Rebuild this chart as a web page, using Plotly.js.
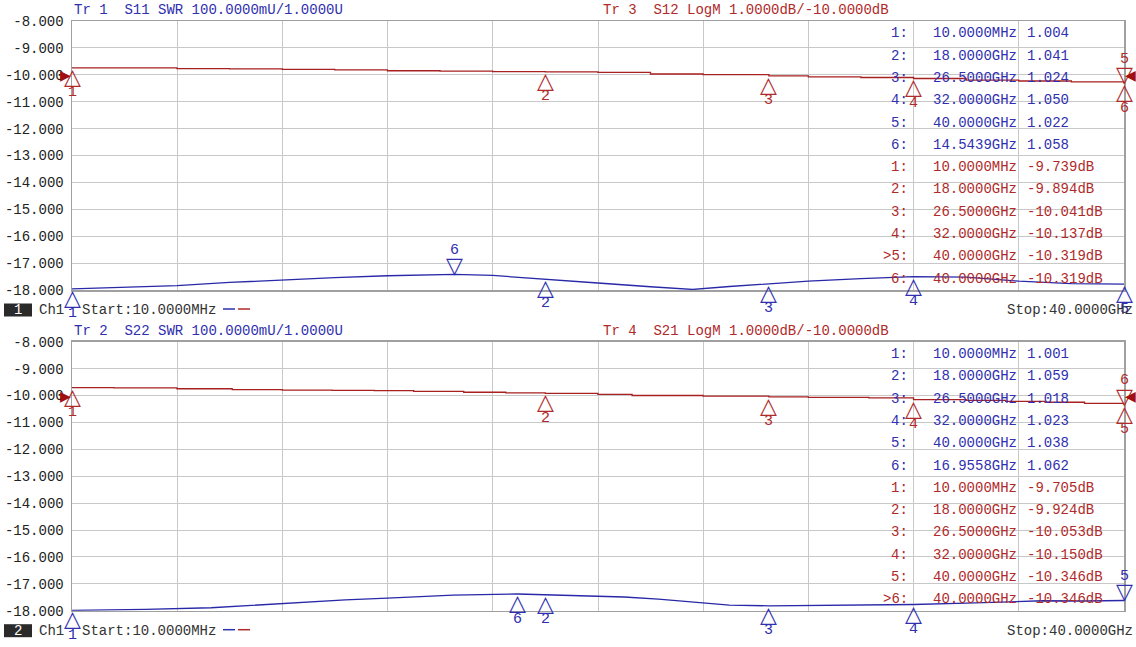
<!DOCTYPE html>
<html><head><meta charset="utf-8">
<script src="https://cdn.plot.ly/plotly-3.0.1.min.js"></script>
<style>html,body{margin:0;padding:0;background:#fff;overflow:hidden}</style>
</head><body><div id="chart" style="width:1136px;height:647px"></div>
<script>
// ---------- data ----------
const freqStartGHz = 0.01, freqStopGHz = 40;
const refLevelDb = -10;
const yTickVals = [-8,-9,-10,-11,-12,-13,-14,-15,-16,-17,-18];
const yTickText = ['-8.000','-9.000','-10.000','-11.000','-12.000','-13.000','-14.000','-15.000','-16.000','-17.000','-18.000'];

// Panel 1 : Tr 3 S12 LogM
const topS12Freq = [0.01, 2, 4, 6, 8, 10, 12, 14, 16, 18, 20, 22, 24, 26.5, 28, 30, 32, 34, 36, 38, 40];
const topS12Db   = [-9.739, -9.745, -9.77, -9.78, -9.80, -9.82, -9.85, -9.86, -9.88, -9.894, -9.91, -9.97, -9.99, -10.041, -10.08, -10.10, -10.137, -10.20, -10.23, -10.26, -10.319];
// Panel 1 : Tr 1 S11 SWR
const topS11Freq = [0.01, 2, 4, 6, 8, 10, 12, 14.5439, 16, 18, 20, 22, 23.6, 25, 26.5, 28, 30, 32, 34, 36, 38, 40];
const topS11Swr  = [1.004, 1.009, 1.016, 1.028, 1.038, 1.046, 1.053, 1.058, 1.054, 1.041, 1.026, 1.012, 1.002, 1.013, 1.024, 1.033, 1.042, 1.050, 1.048, 1.033, 1.024, 1.022];
// Panel 2 : Tr 4 S21 LogM
const botS21Freq = [0.01, 1.6, 4, 6.1, 8, 9.9, 11.5, 13, 14.9, 16.5, 18, 20, 21.3, 24, 26.5, 28, 30.3, 32, 34, 35.5, 37, 38.5, 40];
const botS21Db   = [-9.705, -9.72, -9.75, -9.78, -9.80, -9.81, -9.82, -9.85, -9.88, -9.90, -9.924, -9.96, -10.00, -10.02, -10.053, -10.07, -10.09, -10.150, -10.18, -10.22, -10.25, -10.29, -10.346];
// Panel 2 : Tr 2 S22 SWR
const botS22Freq = [0.01, 1.5, 2.8, 5.3, 8, 10.4, 12, 14.5, 16.9558, 18, 19.8, 21, 22.3, 23.5, 25, 26.5, 29, 32, 34, 36.9, 38.5, 40];
const botS22Swr  = [1.001, 1.002, 1.005, 1.011, 1.027, 1.040, 1.047, 1.058, 1.062, 1.059, 1.056, 1.051, 1.043, 1.032, 1.021, 1.018, 1.020, 1.023, 1.028, 1.037, 1.036, 1.038];

// Markers
const topSwrMkrFreq = [0.01, 18, 26.5, 32, 40, 14.5439];
const topSwrMkrVal  = [1.004, 1.041, 1.024, 1.050, 1.022, 1.058];
const topDbMkrFreq  = [0.01, 18, 26.5, 32, 40, 40];
const topDbMkrVal   = [-9.739, -9.894, -10.041, -10.137, -10.319, -10.319];
const botSwrMkrFreq = [0.01, 18, 26.5, 32, 40, 16.9558];
const botSwrMkrVal  = [1.001, 1.059, 1.018, 1.023, 1.038, 1.062];
const botDbMkrFreq  = [0.01, 18, 26.5, 32, 40, 40];
const botDbMkrVal   = [-9.705, -9.924, -10.053, -10.150, -10.346, -10.346];

const titles = {
  tr1: 'Tr 1\u00a0\u00a0S11 SWR 100.0000mU/1.0000U',
  tr3: 'Tr 3\u00a0\u00a0S12 LogM 1.0000dB/-10.0000dB',
  tr2: 'Tr 2\u00a0\u00a0S22 SWR 100.0000mU/1.0000U',
  tr4: 'Tr 4\u00a0\u00a0S21 LogM 1.0000dB/-10.0000dB'
};

// ---------- styling ----------
const W = 1136, H = 647;
const BLUE = '#2f2fb0', RED = '#b02a2a';
const BLUE_LINE = '#2828a8', RED_LINE = '#a82020';
const MONO = "'Liberation Mono', 'Courier New', Cousine, monospace";
const px = x => x / W, py = y => 1 - y / H;
const plotL = 72, plotR = 1124;
const panels = [{top: 21, bot: 290}, {top: 341.7, bot: 610.7}];

const gridCol = '#c8c8c8', frameCol = '#a0a0a0';
function xAx(anchor) {
  return {domain: [px(plotL), px(plotR)], range: [freqStartGHz, freqStopGHz], tick0: freqStartGHz,
    dtick: (freqStopGHz - freqStartGHz) / 10, showticklabels: false, ticks: '', showgrid: true,
    gridcolor: gridCol, gridwidth: 1, zeroline: false, showline: true, mirror: true, linecolor: frameCol,
    linewidth: 1.5, anchor: anchor, fixedrange: true};
}
function yAx(p, anchor) {
  return {domain: [py(p.bot), py(p.top)], range: [-18, -8], tickvals: yTickVals, ticktext: yTickText,
    ticks: '', showgrid: true, gridcolor: gridCol, gridwidth: 1, zeroline: false, showline: true, mirror: true,
    linecolor: frameCol, linewidth: 1.5, anchor: anchor, ticklabelstandoff: 4,
    tickfont: {family: MONO, size: 14, color: '#222'}, fixedrange: true};
}
function swrAx(over, anchor) {
  return {overlaying: over, range: [1.0, 2.0], visible: false, anchor: anchor, fixedrange: true};
}

const data = [
  {x: topS11Freq, y: topS11Swr, xaxis: 'x', yaxis: 'y2', mode: 'lines', line: {color: BLUE_LINE, width: 1.3}},
  {x: topS12Freq, y: topS12Db, xaxis: 'x', yaxis: 'y', mode: 'lines', line: {color: RED_LINE, width: 1.3, shape: 'hv'}},
  {x: botS22Freq, y: botS22Swr, xaxis: 'x2', yaxis: 'y4', mode: 'lines', line: {color: BLUE_LINE, width: 1.3}},
  {x: botS21Freq, y: botS21Db, xaxis: 'x2', yaxis: 'y3', mode: 'lines', line: {color: RED_LINE, width: 1.3, shape: 'hv'}}
];

const annotations = [];
const shapes = [];
function txt(x, y, text, color, xanchor, extra) {
  annotations.push(Object.assign({xref: 'paper', yref: 'paper', x: px(x), y: py(y), text: text, showarrow: false,
    xanchor: xanchor || 'left', yanchor: 'middle', font: {family: MONO, size: 14, color: color}, borderpad: 0}, extra || {}));
}

function addMarkers(freqs, vals, xref, yref, color, aboveList) {
  freqs.forEach((f, i) => {
    const n = i + 1, above = aboveList.includes(n);
    annotations.push({x: f, y: vals[i], xref: xref, yref: yref, text: above ? '\u25BD' : '\u25B3', showarrow: false,
      xanchor: 'center', yanchor: 'middle', yshift: above ? 8.5 : -8.5, borderpad: 0,
      font: {family: 'DejaVu Sans', size: 22, color: color}});
    annotations.push({x: f, y: vals[i], xref: xref, yref: yref, text: String(n), showarrow: false,
      xanchor: 'center', yanchor: 'middle', yshift: above ? 24 : -25, borderpad: 0,
      font: {family: MONO, size: 15, color: color}});
  });
}
function fmtFreq(f) { return f < 1 ? (f * 1000).toFixed(4) + 'MHz' : f.toFixed(4) + 'GHz'; }

function addTable(p, swrF, swrV, dbF, dbV, activeDb) {
  const rows = [];
  swrF.forEach((f, i) => rows.push({lab: (i + 1) + ':', f: fmtFreq(f), v: swrV[i].toFixed(3), c: BLUE}));
  dbF.forEach((f, i) => rows.push({lab: (i + 1 === activeDb ? '>' : '') + (i + 1) + ':', f: fmtFreq(f), v: dbV[i].toFixed(3) + 'dB', c: RED}));
  rows.forEach((r, k) => {
    const y = p.top + 12.3 + k * 22.3;
    txt(909, y, r.lab, r.c, 'right');
    txt(1018, y, r.f, r.c, 'right');
    txt(1026, y, r.v, r.c, 'left');
  });
}

function addPanel(idx, p, xref, yDb, ySwr, tBlue, tRed, swrF, swrV, dbF, dbV, aboveSwr, aboveDb, activeDb) {
  txt(73, p.top - 11, tBlue, BLUE, 'left');
  txt(602, p.top - 11, tRed, RED, 'left');
  addTable(p, swrF, swrV, dbF, dbV, activeDb);
  addMarkers(swrF, swrV, xref, ySwr, BLUE, aboveSwr);
  addMarkers(dbF, dbV, xref, yDb, RED, aboveDb);
  // reference level indicators
  annotations.push({x: freqStartGHz, y: refLevelDb, xref: xref, yref: yDb, text: '\u25B6', showarrow: false,
    xanchor: 'right', yanchor: 'middle', borderpad: 0, font: {family: 'DejaVu Sans', size: 14, color: '#a01010'}});
  annotations.push({x: freqStopGHz, y: refLevelDb, xref: xref, yref: yDb, text: '\u25C0', showarrow: false,
    xanchor: 'left', yanchor: 'middle', borderpad: 0, font: {family: 'DejaVu Sans', size: 14, color: '#a01010'}});
  // channel line
  const cy = p.bot + 20;
  shapes.push({type: 'rect', xref: 'paper', yref: 'paper', x0: px(4), x1: px(32), y0: py(cy + 6.5), y1: py(cy - 6.5),
    fillcolor: '#2a2a2a', line: {width: 0}});
  txt(18, cy, String(idx), '#ffffff', 'center');
  txt(38, cy, 'Ch1', '#333', 'left');
  txt(81, cy, 'Start:10.0000MHz', '#333', 'left');
  shapes.push({type: 'line', xref: 'paper', yref: 'paper', x0: px(223), x1: px(235), y0: py(cy - 1), y1: py(cy - 1), line: {color: BLUE, width: 1.5}});
  shapes.push({type: 'line', xref: 'paper', yref: 'paper', x0: px(238), x1: px(250), y0: py(cy - 1), y1: py(cy - 1), line: {color: RED, width: 1.5}});
  txt(1134, cy, 'Stop:40.0000GHz', '#333', 'right');
}

addPanel(1, panels[0], 'x', 'y', 'y2', titles.tr1, titles.tr3, topSwrMkrFreq, topSwrMkrVal, topDbMkrFreq, topDbMkrVal, [6], [5], 5);
addPanel(2, panels[1], 'x2', 'y3', 'y4', titles.tr2, titles.tr4, botSwrMkrFreq, botSwrMkrVal, botDbMkrFreq, botDbMkrVal, [5], [6], 6);

const layout = {
  width: W, height: H, margin: {l: 0, r: 0, t: 0, b: 0},
  paper_bgcolor: '#ffffff', plot_bgcolor: '#ffffff', showlegend: false,
  font: {family: MONO, size: 14, color: '#222'},
  xaxis: xAx('y'), yaxis: yAx(panels[0], 'x'), yaxis2: swrAx('y', 'x'),
  xaxis2: xAx('y3'), yaxis3: yAx(panels[1], 'x2'), yaxis4: swrAx('y3', 'x2'),
  annotations: annotations, shapes: shapes
};

Plotly.newPlot('chart', data, layout, {displayModeBar: false, staticPlot: true});
</script></body></html>
